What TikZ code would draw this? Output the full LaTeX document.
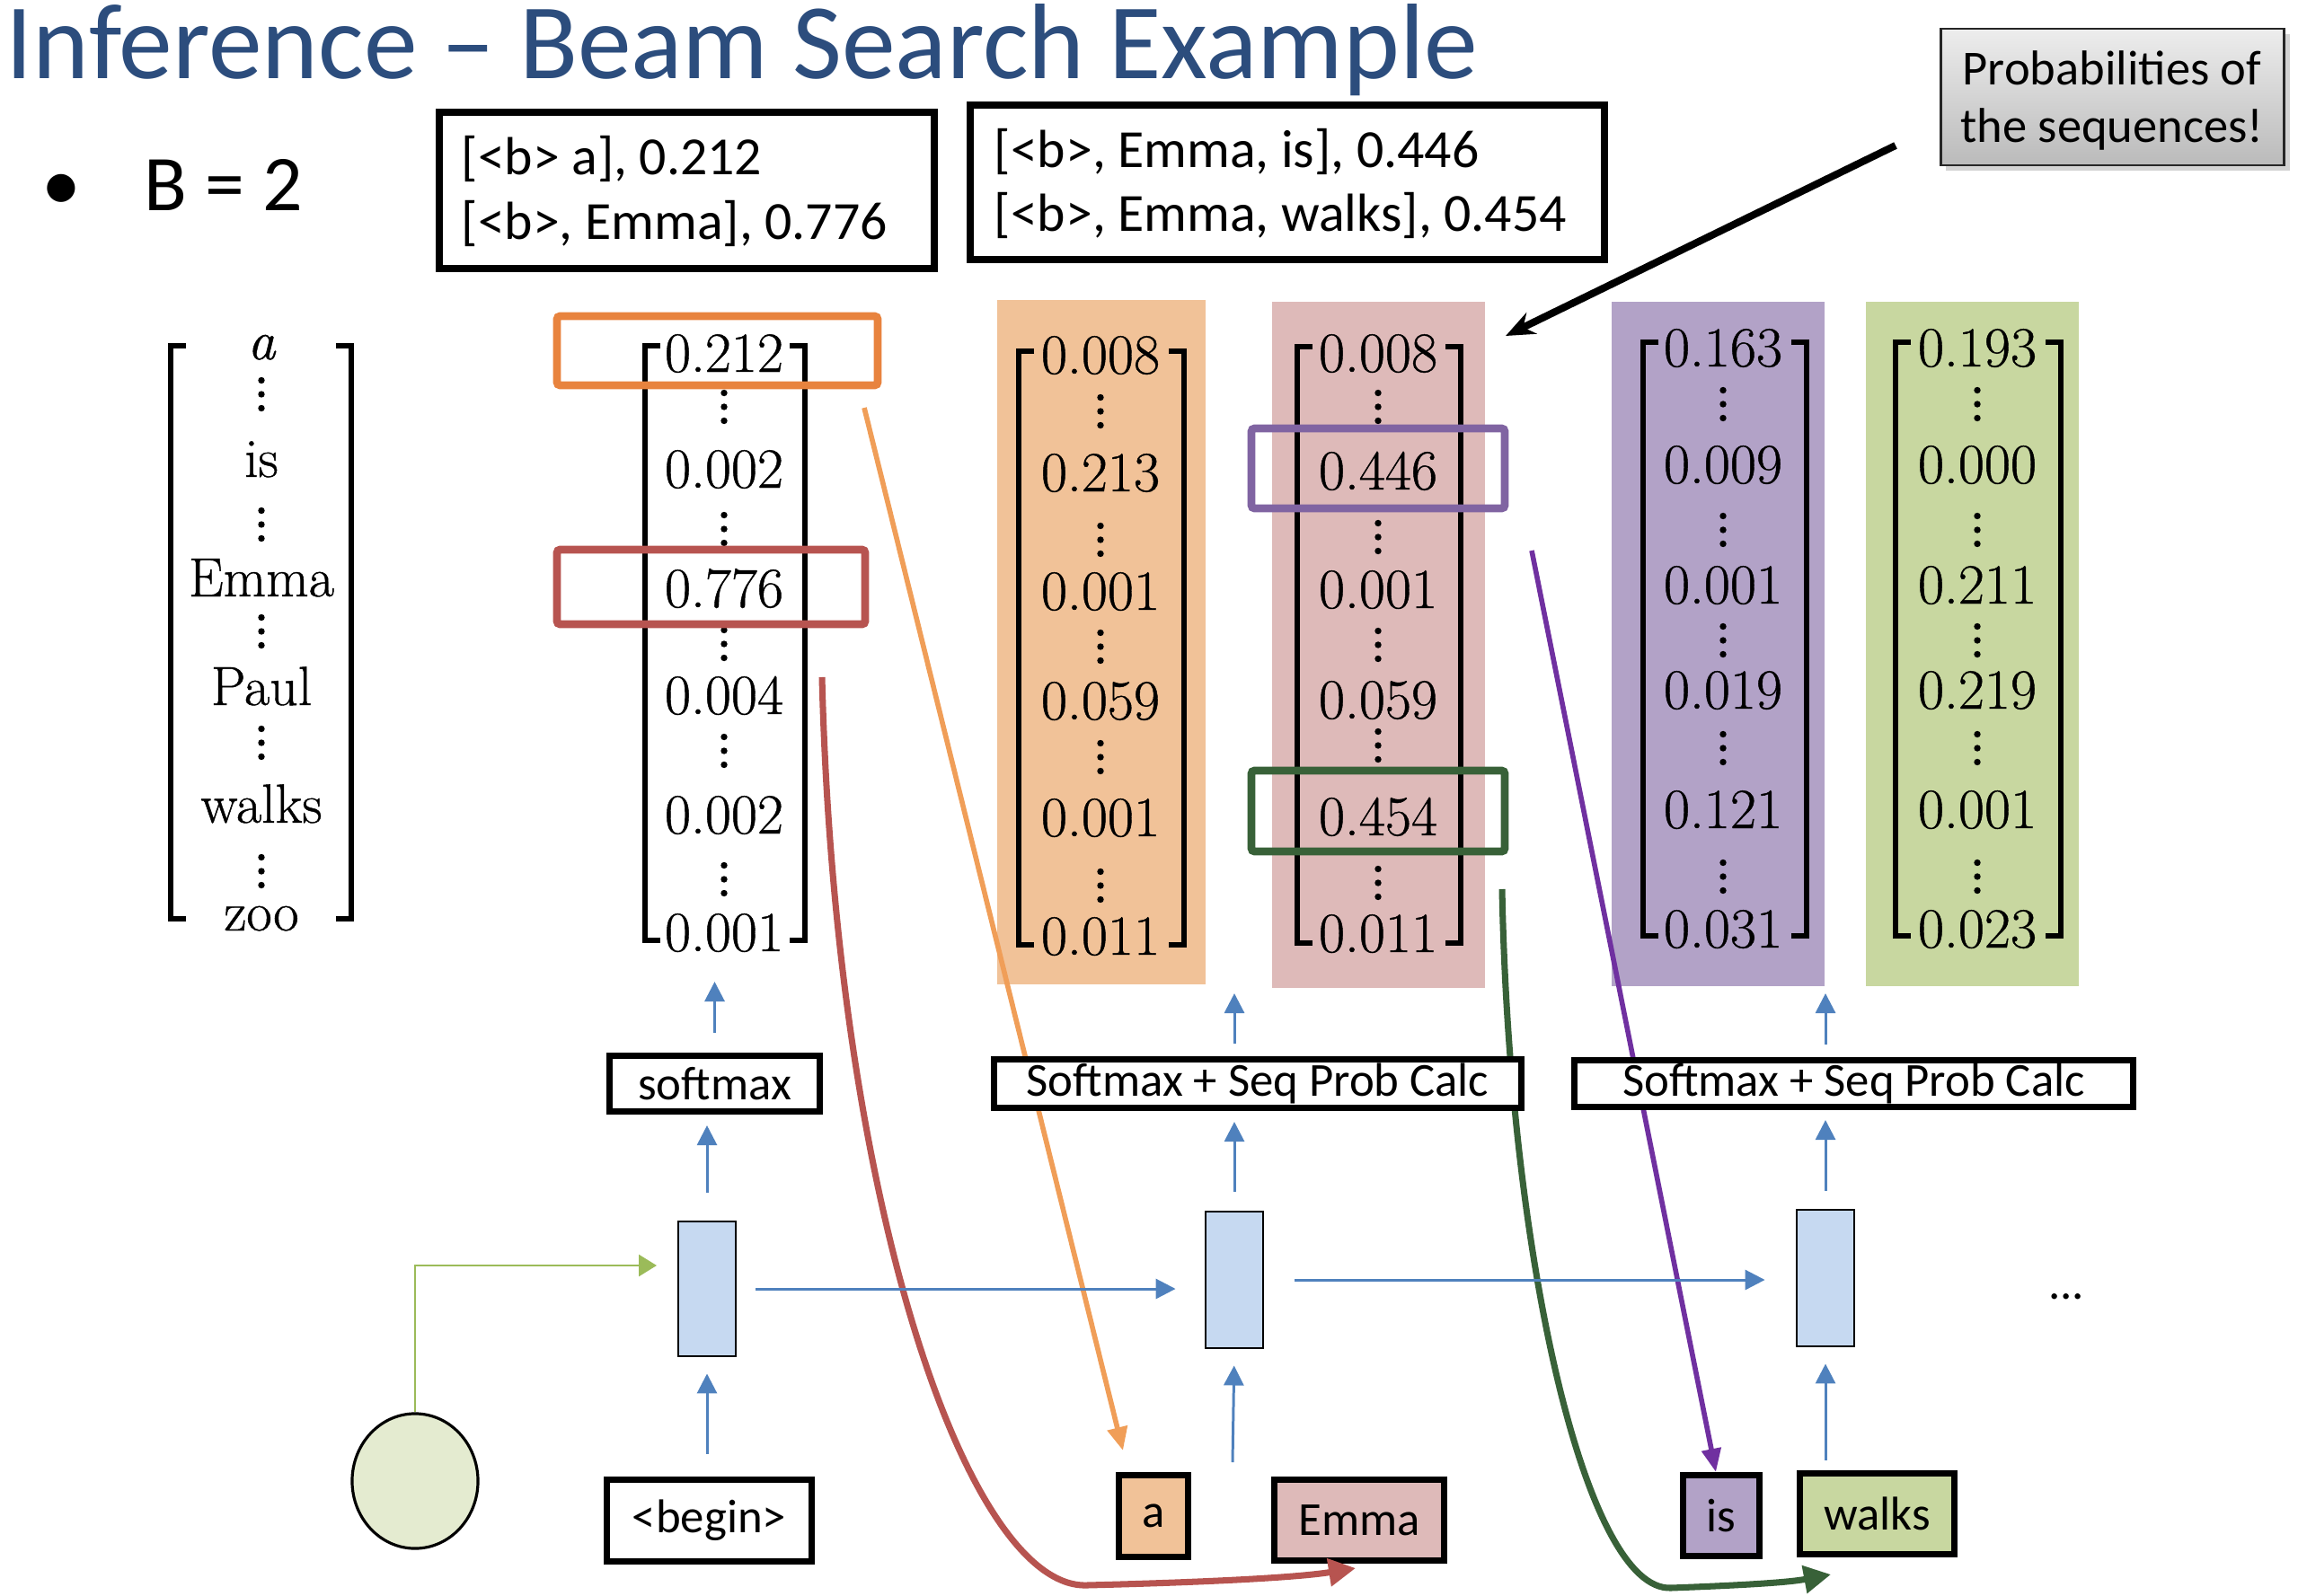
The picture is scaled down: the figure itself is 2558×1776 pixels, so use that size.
\documentclass[tikz,border=0pt]{standalone}
\usepackage{fontspec}
\newfontfamily\carl{Carlito}
\newfontfamily\numf[FakeBold=0.7]{Latin Modern Roman}
\usetikzlibrary{arrows.meta,shadows,shapes.geometric}
\definecolor{titleblue}{RGB}{44,77,125}
\definecolor{hlorange}{RGB}{232,131,62}
\definecolor{arorange}{RGB}{240,158,88}
\definecolor{hlred}{RGB}{183,84,80}
\definecolor{hlpurple}{RGB}{128,100,162}
\definecolor{arpurple}{RGB}{112,48,160}
\definecolor{hlgreen}{RGB}{56,97,56}
\definecolor{pnlorange}{RGB}{241,194,152}
\definecolor{pnlpink}{RGB}{222,186,185}
\definecolor{pnlpurple}{RGB}{178,162,199}
\definecolor{pnlgreen}{RGB}{200,215,160}
\definecolor{cellblue}{RGB}{198,217,241}
\definecolor{arblue}{RGB}{79,129,189}
\definecolor{ellgreen}{RGB}{228,235,208}
\definecolor{elbowgreen}{RGB}{155,187,89}
\newcommand\mybrackets[4]{%
  \draw[brk] (#1+17,#3) -- (#1,#3) -- (#1,#4) -- (#1+17,#4);
  \draw[brk] (#2-17,#3) -- (#2,#3) -- (#2,#4) -- (#2-17,#4);}
\begin{document}
\begin{tikzpicture}[x=0.01cm,y=-0.01cm,
  sbox/.style={draw=black, line width=2pt, fill=white, inner sep=0pt, font=\carl\fontsize{15}{18}\selectfont},
  topbox/.style={draw=black, line width=2.3pt, inner sep=0pt},
  ttxt/.style={font=\carl\fontsize{17}{20}\selectfont, inner sep=0pt, anchor=base west},
  ctxt/.style={font=\carl\fontsize{15.5}{19}\selectfont, inner sep=0pt, anchor=base},
  num/.style={font=\numf\fontsize{18}{21}\selectfont, inner sep=0pt, anchor=base},
  voc/.style={font=\numf\fontsize{17.5}{21}\selectfont, inner sep=0pt, anchor=base},
  hl/.style={line width=2.5pt, rounded corners=1pt},
  brk/.style={line width=1.7pt},
  barrow/.style={draw=arblue, line width=0.85pt, -{Triangle[length=0.22cm,width=0.22cm]}},
  cell/.style={draw=black, line width=0.8pt, fill=cellblue, minimum width=0.64cm, minimum height=1.50cm, inner sep=0pt},
  vdts/.pic={\foreach \k in {-15.5,0,15.5} \fill (0,\k) circle (0.037cm);}
]
\useasboundingbox (0,0) rectangle (2558,1776);

% title and bullet
\node[anchor=base west, inner sep=0pt, font=\carl\fontsize{34}{40}\selectfont, text=titleblue] (title) at (6,88) {Inference – Beam Search Example};
\node[anchor=base, inner sep=0pt, font=\carl\fontsize{25}{30}\selectfont] (bul) at (68,235) {•};
\node[anchor=base west, inner sep=0pt, font=\carl\fontsize{25}{30}\selectfont] (bval) at (160,235) {B = 2};

% top boxes
\node[topbox, minimum width=5.51cm, minimum height=1.74cm] (b1) at (764.5,212) {};
\node[ttxt] (b1l1) at (513,195) {[<b> a], 0.212};
\node[ttxt] (b1l2) at (513,267) {[<b>, Emma], 0.776};
\node[topbox, minimum width=7.06cm, minimum height=1.72cm] (b2) at (1433,203) {};
\node[ttxt] (b2l1) at (1106,187) {[<b>, Emma, is], 0.446};
\node[ttxt] (b2l2) at (1106,258) {[<b>, Emma, walks], 0.454};

% callout
\node[draw=black!85, line width=0.8pt, top color=black!7, bottom color=black!27,
      drop shadow={shadow xshift=0.06cm, shadow yshift=-0.06cm, opacity=0.35},
      minimum width=3.82cm, minimum height=1.52cm, inner sep=0pt] (call) at (2351.5,108) {};
\node[ctxt] (c1t) at (2351,95) {Probabilities of};
\node[ctxt] (c2t) at (2351,159) {the sequences!};

% panels
\fill[pnlorange] (1110,334) rectangle (1342,1096);
\fill[pnlpink] (1416,336) rectangle (1653,1100);
\fill[pnlpurple] (1794,336) rectangle (2031,1098);
\fill[pnlgreen] (2077,336) rectangle (2314,1098);

% vocabulary
\mybrackets{190}{391}{385}{1023}
\node[voc] (w1) at (291,400) {\itshape a};
\node[voc] (w2) at (291,531) {is};
\node[voc] (w3) at (291,664) {Emma};
\node[voc] (w4) at (291,785) {Paul};
\node[voc] (w5) at (291,916) {walks};
\node[voc] (w6) at (291,1036) {zoo};
\foreach \yc in {439,584,703,827,970} \pic at (291,\yc) {vdts};

% matrix 1
\mybrackets{718}{896}{385}{1047}
\foreach \v/\yb [count=\i] in {0.212/414,0.002/543,0.776/676,0.004/795,0.002/928,0.001/1059}
  \node[num] (ma-\i) at (806,\yb) {\v};
\foreach \yc in {453,589,717,836,979} \pic at (806,\yc) {vdts};

% orange matrix
\mybrackets{1134}{1318}{391}{1052}
\foreach \v/\yb [count=\i] in {0.008/416,0.213/547,0.001/679,0.059/801,0.001/931,0.011/1063}
  \node[num] (mb-\i) at (1225,\yb) {\v};
\foreach \yc in {458,601,720,843,986} \pic at (1225,\yc) {vdts};

% pink matrix
\mybrackets{1444}{1626}{386}{1050}
\foreach \v/\yb [count=\i] in {0.008/414,0.446/545,0.001/677,0.059/800,0.454/930,0.011/1060}
  \node[num] (mc-\i) at (1534,\yb) {\v};
\foreach \yc in {453,598,718,830,983} \pic at (1534,\yc) {vdts};

% purple matrix
\mybrackets{1829}{2011}{381}{1042}
\foreach \v/\yb [count=\i] in {0.163/408,0.009/538,0.001/672,0.019/789,0.121/922,0.031/1055}
  \node[num] (md-\i) at (1918,\yb) {\v};
\foreach \yc in {450,590,713,833,976} \pic at (1918,\yc) {vdts};

% green matrix
\mybrackets{2110}{2294}{381}{1042}
\foreach \v/\yb [count=\i] in {0.193/408,0.000/538,0.211/672,0.219/789,0.001/922,0.023/1055}
  \node[num] (me-\i) at (2201,\yb) {\v};
\foreach \yc in {450,590,713,833,976} \pic at (2201,\yc) {vdts};

% highlight boxes
\draw[hl, hlorange] (620,352) rectangle (977,429);
\draw[hl, hlred] (620,612) rectangle (963,695);
\draw[hl, hlpurple] (1393,477) rectangle (1675,566);
\draw[hl, hlgreen] (1393,858) rectangle (1675,948);

% input boxes
\node[sbox, minimum width=2.28cm, minimum height=0.91cm] (beg) at (789.5,1693) {<begin>};
\node[sbox, fill=pnlorange, minimum width=0.77cm, minimum height=0.91cm] (ta) at (1284,1688) {a};
\node[sbox, fill=pnlpink, minimum width=1.89cm, minimum height=0.90cm] (temma) at (1513,1692.5) {Emma};
\node[sbox, fill=pnlpurple, minimum width=0.85cm, minimum height=0.90cm] (tis) at (1916,1687.5) {is};
\node[sbox, fill=pnlgreen, minimum width=1.72cm, minimum height=0.90cm] (twalks) at (2089.5,1685.5) {walks};

% connector end points
\coordinate (oS) at (962,454);   \coordinate (oE) at (1250,1615);
\coordinate (rS) at (915,754);   \coordinate (rE) at (1509,1746);
\coordinate (gS) at (1672,990);  \coordinate (gE) at (2038,1753);
\coordinate (pS) at (1705,613);  \coordinate (pE) at (1910,1639);
\coordinate (kS) at (2110,162);  \coordinate (kE) at (1676,374);

% selection connectors
\draw[arorange, line width=1.6pt, -{Triangle[length=0.26cm,width=0.22cm]}] (oS) -- (oE);
\draw[hlred, line width=2pt, -{Triangle[length=0.30cm,width=0.30cm]}]
  (rS) .. controls (930,1350) and (1080,1770) .. (1210,1765)
       .. controls (1330,1762) and (1440,1757) .. (rE);
\draw[hlgreen, line width=2pt, -{Triangle[length=0.30cm,width=0.30cm]}]
  (gS) .. controls (1680,1400) and (1765,1772) .. (1860,1768)
       .. controls (1940,1765) and (1990,1762) .. (gE);
\draw[arpurple, line width=1.6pt, -{Triangle[length=0.26cm,width=0.21cm]}] (pS) -- (pE);
\draw[black, line width=2.3pt, -{Stealth[length=0.32cm,width=0.26cm]}] (kS) -- (kE);

% softmax boxes
\node[sbox, minimum width=2.34cm, minimum height=0.62cm] (sm1) at (795.5,1206.5) {softmax};
\node[sbox, minimum width=5.87cm, minimum height=0.54cm] (sq1) at (1400,1206.5) {Softmax + Seq Prob Calc};
\node[sbox, minimum width=6.22cm, minimum height=0.52cm] (sq2) at (2063.5,1206.5) {Softmax + Seq Prob Calc};

% rnn cells
\node[cell] (c1) at (787,1435) {};
\node[cell, minimum height=1.52cm] (c2) at (1374,1425) {};
\node[cell, minimum height=1.52cm] (c3) at (2032,1423) {};
\node[anchor=base, inner sep=0pt, font=\carl\fontsize{15}{18}\selectfont] (dots) at (2300,1446) {...};

% matrix bottom coordinates
\coordinate (t1) at (795,1093);
\coordinate (t2) at (1379,1106);
\coordinate (t3) at (2036,1106);

% blue arrows
\draw[barrow, shorten <=0.22cm] (sm1.north) -- (sm1.north |- t1);
\draw[barrow, shorten <=0.14cm] (c2 |- sq1.north) -- (c2 |- t2);
\draw[barrow, shorten <=0.14cm] (c3 |- sq2.north) -- (c3 |- t3);
\draw[barrow, shorten <=0.31cm, shorten >=0.12cm] (c1.north) -- (c1.north |- sm1.south);
\draw[barrow, shorten <=0.21cm, shorten >=0.12cm] (c2.north) -- (c2.north |- sq1.south);
\draw[barrow, shorten <=0.20cm, shorten >=0.11cm] (c3.north) -- (c3.north |- sq2.south);
\draw[barrow, shorten <=0.21cm, shorten >=0.32cm] (c1.east) -- (c1.east -| c2.west);
\draw[barrow, shorten <=0.34cm, shorten >=0.34cm] (c2.east) -- (c2.east -| c3.west);
\coordinate (in2) at (1372,1628);
\coordinate (in3) at (2032,1626);
\draw[barrow, shorten <=0.25cm, shorten >=0.18cm] (beg.north -| c1) -- (c1.south);
\draw[barrow, shorten >=0.18cm] (in2) -- (c2.south);
\draw[barrow, shorten >=0.18cm] (in3) -- (c3.south);

% initial state
\node[draw=black, line width=0.9pt, fill=ellgreen, ellipse, minimum width=1.40cm, minimum height=1.50cm, inner sep=0pt] (ell) at (462,1649) {};
\coordinate (g1) at (731,1409);
\draw[elbowgreen, line width=0.8pt, -{Triangle[length=0.20cm,width=0.24cm]}] (ell.north) |- (g1);
\end{tikzpicture}
\end{document}
